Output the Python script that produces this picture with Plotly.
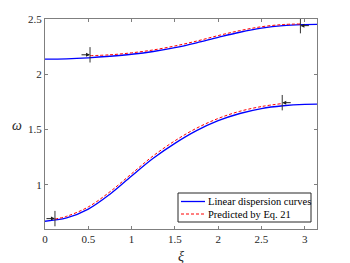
import plotly.graph_objects as go
import math

PI = math.pi

# Lower branch - linear dispersion curve
xi_low = [0, 0.25, 0.5, 0.75, 1.0, 1.25, 1.5, 1.75, 2.0, 2.25, 2.5, 2.75, 3.0, PI]
w_low = [0.67, 0.70, 0.78, 0.915, 1.08, 1.24, 1.375, 1.49, 1.58, 1.645, 1.69, 1.715, 1.728, 1.73]

# Upper branch - linear dispersion curve
xi_up = [0, 0.25, 0.5, 0.75, 1.0, 1.25, 1.5, 1.75, 2.0, 2.25, 2.5, 2.75, 3.0, PI]
w_up = [2.137, 2.140, 2.149, 2.163, 2.181, 2.206, 2.241, 2.285, 2.334, 2.380, 2.417, 2.440, 2.449, 2.451]

# Predicted by Eq. 21 - lower
xi_plow = [0.115, 0.25, 0.5, 0.75, 1.0, 1.25, 1.5, 1.75, 2.0, 2.25, 2.5, 2.74]
w_plow = [0.69, 0.715, 0.80, 0.937, 1.10, 1.262, 1.398, 1.512, 1.60, 1.665, 1.708, 1.735]

# Predicted by Eq. 21 - upper
xi_pup = [0.52, 0.75, 1.0, 1.25, 1.5, 1.75, 2.0, 2.25, 2.5, 2.75, 2.95]
w_pup = [2.168, 2.176, 2.194, 2.22, 2.256, 2.30, 2.35, 2.395, 2.43, 2.45, 2.455]

# Arrow markers (position and direction: +1 pointing right, -1 pointing left)
arrow_xi = [0.52, 0.115, 2.74, 2.95]
arrow_w = [2.176, 0.694, 1.743, 2.44]
arrow_dir = [1, 1, -1, -1]

x_ticks = [0, 0.5, 1, 1.5, 2, 2.5, 3]
y_ticks = [1, 1.5, 2, 2.5]

series_names = ["Linear dispersion curves", "Predicted by Eq. 21"]
series_colors = ["#0000ff", "#ff0000"]
series_dash = ["solid", "3px,2px"]

SERIF = "Liberation Serif, Times New Roman, serif"

# plot area in page pixels (page body has an 8px offset)
OFF = 8
L, R, T, B = 45, 317, 19, 229
PW, PH = R - L, B - T
W, H = 350, 263


def px(xp):
    return (xp - L) / PW


def py(yp):
    return (B - yp) / PH


fig = go.Figure()
fig.add_trace(go.Scatter(x=xi_low, y=w_low, mode="lines", name=series_names[0],
                         line=dict(color=series_colors[0], width=1.3, shape="spline")))
fig.add_trace(go.Scatter(x=xi_up, y=w_up, mode="lines", name=series_names[0],
                         line=dict(color=series_colors[0], width=1.3, shape="spline")))
fig.add_trace(go.Scatter(x=xi_plow, y=w_plow, mode="lines", name=series_names[1],
                         line=dict(color=series_colors[1], width=1, dash=series_dash[1], shape="spline")))
fig.add_trace(go.Scatter(x=xi_pup, y=w_pup, mode="lines", name=series_names[1],
                         line=dict(color=series_colors[1], width=1, dash=series_dash[1], shape="spline")))
fig.add_trace(go.Scatter(x=arrow_xi, y=arrow_w, mode="markers", hoverinfo="skip",
                         marker=dict(symbol="line-ns", size=11, line=dict(color="#333333", width=1))))

for xv, yv, d in zip(arrow_xi, arrow_w, arrow_dir):
    fig.add_annotation(x=xv, y=yv, ax=-10 * d, ay=0, axref="pixel", ayref="pixel", text="",
                       showarrow=True, arrowhead=2, arrowsize=0.8, arrowwidth=1, arrowcolor="#222222")

# axis labels
fig.add_annotation(x=px(17), y=py(125), xref="paper", yref="paper", text="<i>ω</i>",
                   xanchor="center", yanchor="middle",
                   showarrow=False, font=dict(family=SERIF, size=14, color="#262626"))
fig.add_annotation(x=px(181), y=py(256), xref="paper", yref="paper", text="<i>ξ</i>",
                   xanchor="center", yanchor="middle",
                   showarrow=False, font=dict(family=SERIF, size=14, color="#262626"))

# legend box (drawn in paper coordinates)
fig.add_shape(type="rect", xref="paper", yref="paper", x0=px(178), x1=px(311), y0=py(222), y1=py(193),
              line=dict(color="#262626", width=1), fillcolor="white", layer="above")
for i, (nm, col, ds) in enumerate(zip(series_names, series_colors, series_dash)):
    yy = 201.5 + i * 12.5
    fig.add_shape(type="line", xref="paper", yref="paper", x0=px(181), x1=px(205), y0=py(yy), y1=py(yy),
                  line=dict(color=col, width=1.3 if i == 0 else 1, dash=ds), layer="above")
    fig.add_annotation(x=px(206), y=py(yy), xref="paper", yref="paper", text=nm, showarrow=False,
                       xanchor="left", yanchor="middle", font=dict(family=SERIF, size=10.5, color="#000000"))

axis_common = dict(showline=True, linecolor="#7f7f7f", linewidth=1, mirror="ticks", ticks="inside",
                   ticklen=3, tickcolor="#7f7f7f", showgrid=False, zeroline=False, automargin=False,
                   tickfont=dict(family=SERIF, size=11, color="#262626"))
fig.update_xaxes(range=[0, PI], tickvals=x_ticks, ticktext=[str(t) for t in x_ticks], **axis_common)
fig.update_yaxes(range=[0.6, 2.5], tickvals=y_ticks, ticktext=[str(t) for t in y_ticks], **axis_common)

fig.update_layout(
    width=W, height=H,
    showlegend=False,
    margin=dict(l=L - OFF, r=W - (R - OFF), t=T - OFF, b=H - (B - OFF), autoexpand=False),
    plot_bgcolor="white", paper_bgcolor="white",
    font=dict(family=SERIF, size=11, color="#262626"),
)

fig.write_html("out.html")
